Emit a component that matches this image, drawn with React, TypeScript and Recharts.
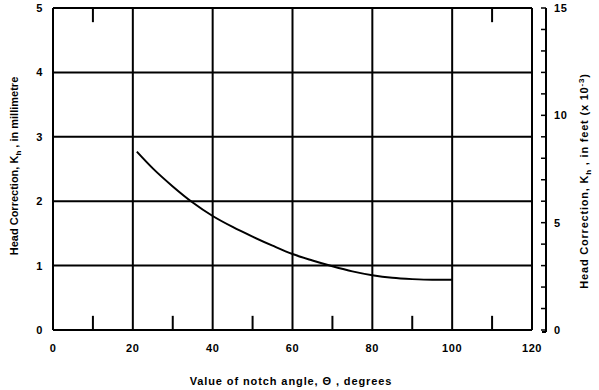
import React from 'react';
import { ComposedChart, Line, XAxis, YAxis, CartesianGrid, ReferenceLine } from 'recharts';

// notch angle (degrees) and head correction K_h (mm)
const angles = [21, 25, 30, 35, 40, 45, 50, 55, 60, 65, 70, 75, 80, 85, 90, 95, 100];
const kh = [2.77, 2.51, 2.23, 1.98, 1.77, 1.6, 1.45, 1.31, 1.18, 1.08, 0.99, 0.91, 0.85, 0.81, 0.79, 0.78, 0.78];

const xTicks = [0, 20, 40, 60, 80, 100, 120];
const mmTicks = [0, 1, 2, 3, 4, 5];
const ftTicks = [0, 1, 2, 3, 4, 5, 6, 7, 8, 9, 10, 11, 12, 13, 14, 15];
const ftLabels = [0, 5, 10, 15];
const minorBottom = [10, 30, 50, 70, 90, 110];
const minorTop = [10, 110];

const data = angles.map((a, i) => ({ angle: a, kh: kh[i] }));

const GAP = 14; // right scale stands a little off the frame

const font = {
  fontFamily: '"Liberation Sans", Arial, sans-serif',
  fontWeight: 'bold' as const,
  fontSize: 11,
  letterSpacing: 0.6,
  fill: '#000',
};

const renderRightTick = (props: any) => {
  const { x, y, payload } = props;
  const v = payload.value;
  const ax = x + GAP;
  return (
    <g key={'ft' + v}>
      <line x1={ax - 5} y1={y} x2={ax} y2={y} stroke="#000" strokeWidth={1.5} />
      {ftLabels.includes(v) && (
        <text x={ax + 8} y={y} dy="0.35em" textAnchor="start" {...font}>
          {v}
        </text>
      )}
    </g>
  );
};

const LeftTitle = () => (
  <text x={14} y={166} transform="rotate(-90, 14, 166)" textAnchor="middle" dy="0.35em" {...font} letterSpacing={0}>
    Head Correction, K<tspan dy={3} fontSize={8}>h</tspan>
    <tspan dy={-3}> , in millimetre</tspan>
  </text>
);

// axis line of the right scale plus its title
const RightTitle = (props: any) => {
  const vb = props.viewBox || { x: 532, y: 8, height: 322 };
  const ax = vb.x + GAP;
  return (
    <g>
      <line x1={ax} y1={vb.y} x2={ax} y2={vb.y + vb.height + 2} stroke="#000" strokeWidth={2} />
      <line x1={ax - 4} y1={vb.y + vb.height + 2} x2={ax} y2={vb.y + vb.height + 2} stroke="#000" strokeWidth={2} />
      <text x={584} y={181} transform="rotate(-90, 584, 181)" textAnchor="middle" dy="0.35em" {...font} letterSpacing={0.8}>
        Head Correction, K<tspan dy={3} fontSize={8}>h</tspan>
        <tspan dy={-3}> , in feet (x 10</tspan>
        <tspan dy={-4} fontSize={8}>-3</tspan>
        <tspan dy={4}>)</tspan>
      </text>
    </g>
  );
};

const XTitle = () => (
  <text x={291} y={381} textAnchor="middle" dy="0.35em" {...font} letterSpacing={0.9}>
    Value of notch angle, {'\u0398'} , degrees
  </text>
);

export default function App() {
  return (
    <div style={{ position: 'absolute', left: 0, top: 0, background: '#fff' }}>
      <ComposedChart width={599} height={390} data={data} margin={{ top: 8, right: 0, bottom: 0, left: 0 }}>
        <CartesianGrid stroke="#000" strokeWidth={2} yAxisId="mm" />
        <XAxis
          type="number"
          dataKey="angle"
          domain={[0, 120]}
          ticks={xTicks}
          height={60}
          axisLine={{ stroke: '#000', strokeWidth: 2 }}
          tickLine={false}
          tickSize={0}
          tickMargin={14}
          tick={font}
          label={<XTitle />}
        />
        <YAxis
          yAxisId="mm"
          domain={[0, 5]}
          ticks={mmTicks}
          width={53}
          axisLine={{ stroke: '#000', strokeWidth: 2 }}
          tickLine={false}
          tickSize={0}
          tickMargin={10}
          tick={font}
          label={<LeftTitle />}
        />
        <YAxis
          yAxisId="ft"
          orientation="right"
          type="number"
          domain={[0, 15]}
          allowDataOverflow
          ticks={ftTicks}
          interval={0}
          width={67}
          axisLine={false}
          tickLine={false}
          tickSize={0}
          tickMargin={0}
          tick={renderRightTick}
          label={<RightTitle />}
        />
        <ReferenceLine yAxisId="mm" y={5} stroke="#000" strokeWidth={2} />
        <ReferenceLine yAxisId="mm" x={120} stroke="#000" strokeWidth={2} />
        {minorBottom.map((m) => (
          <ReferenceLine
            key={'b' + m}
            yAxisId="mm"
            segment={[{ x: m, y: 0 }, { x: m, y: 0.22 }]}
            stroke="#000"
            strokeWidth={2}
          />
        ))}
        {minorTop.map((m) => (
          <ReferenceLine
            key={'t' + m}
            yAxisId="mm"
            segment={[{ x: m, y: 5 }, { x: m, y: 4.78 }]}
            stroke="#000"
            strokeWidth={2}
          />
        ))}
        <Line
          yAxisId="mm"
          type="monotone"
          dataKey="kh"
          stroke="#000"
          strokeWidth={2}
          dot={false}
          isAnimationActive={false}
        />
      </ComposedChart>
    </div>
  );
}
